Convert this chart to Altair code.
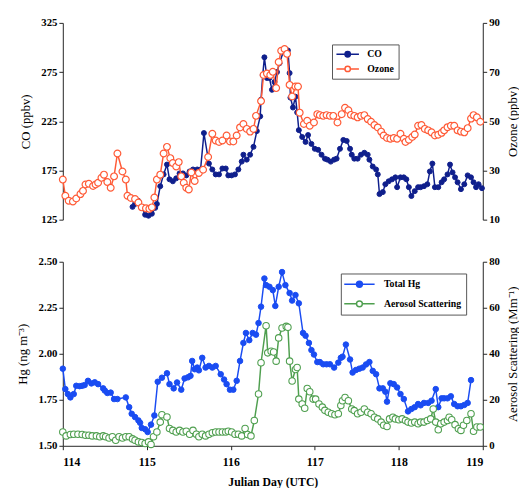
import altair as alt
import pandas as pd

# ---------------- data ----------------
co_day = [114.83, 114.86, 114.90, 114.94, 114.98, 115.02, 115.06, 115.10, 115.12, 115.16,
          115.20, 115.24, 115.27, 115.31, 115.35, 115.39, 115.43, 115.47, 115.51, 115.55,
          115.60, 115.64, 115.68, 115.74, 115.78, 115.82, 115.86, 115.90, 115.94, 115.97,
          116.01, 116.05, 116.09, 116.13, 116.15, 116.19, 116.23, 116.27, 116.31, 116.35,
          116.36, 116.38, 116.40, 116.43, 116.46, 116.49, 116.52, 116.55, 116.58, 116.63,
          116.68, 116.70, 116.71, 116.74, 116.77, 116.79, 116.81, 116.85, 116.89, 116.92,
          116.96, 117.00, 117.04, 117.08, 117.12, 117.15, 117.19, 117.23, 117.26, 117.30,
          117.34, 117.38, 117.42, 117.44, 117.47, 117.51, 117.55, 117.59, 117.63, 117.65,
          117.69, 117.73, 117.75, 117.77, 117.81, 117.84, 117.88, 117.92, 117.96, 117.98,
          118.02, 118.06, 118.09, 118.12, 118.15, 118.19, 118.23, 118.26, 118.30, 118.34,
          118.37, 118.40, 118.43, 118.47, 118.51, 118.54, 118.58, 118.61, 118.64, 118.67,
          118.70, 118.74, 118.78, 118.82, 118.86, 118.89, 118.92, 118.95, 118.99]
co_val = [138, 141, 144, 138, 130, 129, 131, 137, 141, 159,
          171, 181, 166, 164, 167, 172, 172, 170, 174, 176,
          176, 176, 213, 182, 176, 171, 171, 177, 177, 170,
          170, 171, 176, 184, 191, 186, 191, 199, 215, 230,
          247, 272, 290, 269, 269, 257, 265, 275, 284, 297,
          297, 274, 249, 239, 250, 234, 216, 209, 204, 211,
          202, 197, 196, 191, 187, 186, 184, 186, 187, 197,
          206, 205, 197, 191, 187, 187, 191, 193, 191, 186,
          179, 176, 171, 151, 153, 161, 164, 166, 168, 158,
          168, 168, 166, 158, 149, 154, 158, 158, 159, 161,
          174, 182, 158, 158, 163, 166, 171, 181, 173, 168,
          163, 156, 161, 170, 168, 163, 158, 161, 157]

oz_day = [114.00, 114.03, 114.07, 114.12, 114.16, 114.21, 114.24, 114.27, 114.31, 114.36,
          114.39, 114.42, 114.46, 114.49, 114.53, 114.57, 114.61, 114.65, 114.71, 114.75,
          114.77, 114.81, 114.86, 114.90, 114.94, 114.99, 115.03, 115.06, 115.09, 115.12,
          115.16, 115.20, 115.24, 115.28, 115.31, 115.35, 115.38, 115.41, 115.44, 115.47,
          115.50, 115.53, 115.57, 115.62, 115.67, 115.73, 115.78, 115.82, 115.86, 115.90,
          115.95, 115.99, 116.03, 116.07, 116.11, 116.15, 116.19, 116.23, 116.27, 116.30,
          116.36, 116.39, 116.43, 116.47, 116.50, 116.54, 116.57, 116.60, 116.64, 116.67,
          116.70, 116.73, 116.77, 116.80, 116.82, 116.87, 116.91, 116.94, 116.99, 117.03,
          117.06, 117.10, 117.14, 117.18, 117.22, 117.27, 117.32, 117.36, 117.40, 117.43,
          117.47, 117.51, 117.55, 117.59, 117.63, 117.67, 117.71, 117.75, 117.79, 117.82,
          117.86, 117.90, 117.94, 117.98, 118.02, 118.06, 118.08, 118.12, 118.16, 118.19,
          118.23, 118.27, 118.31, 118.35, 118.39, 118.43, 118.47, 118.51, 118.54, 118.58,
          118.62, 118.66, 118.70, 118.74, 118.78, 118.82, 118.86, 118.89, 118.93, 118.97]
oz_val = [26.3, 19.7, 17.7, 17.4, 18.6, 20.4, 21.7, 24.3, 24.6, 23.7,
          24.3, 25.0, 27.0, 28.3, 25.3, 23.0, 27.6, 36.9, 29.6, 26.3,
          19.7, 18.8, 18.4, 17.0, 15.0, 14.6, 14.4, 15.0, 19.0, 26.3,
          28.3, 36.9, 39.6, 35.0, 33.0, 31.6, 33.4, 27.6, 25.0, 23.0,
          22.3, 29.2, 25.7, 29.0, 30.3, 35.5, 44.9, 42.2, 41.6, 42.2,
          44.2, 41.8, 41.8, 44.2, 47.5, 48.9, 46.9, 45.8, 46.9, 52.2,
          58.2, 68.8, 69.4, 68.8, 70.1, 63.5, 74.1, 78.7, 79.4, 77.4,
          64.8, 60.1, 64.1, 64.1, 53.5, 48.9, 50.2, 48.2, 49.5, 52.9,
          52.5, 52.2, 52.5, 52.2, 52.2, 49.5, 52.9, 55.5, 54.5, 52.6,
          52.2, 51.6, 52.2, 52.5, 50.9, 49.8, 48.5, 47.5, 45.8, 44.2,
          43.2, 42.9, 43.2, 42.9, 44.9, 42.9, 41.6, 42.5, 43.6, 44.6,
          48.2, 48.5, 46.9, 46.3, 45.5, 44.2, 44.5, 45.3, 46.3, 47.6,
          48.2, 48.2, 46.3, 45.8, 45.5, 47.2, 51.1, 52.5, 51.6, 49.8]

hg_day = [114.00, 114.03, 114.06, 114.09, 114.13, 114.16, 114.20, 114.23, 114.26, 114.30,
          114.34, 114.38, 114.42, 114.48, 114.50, 114.53, 114.57, 114.61, 114.65, 114.75,
          114.79, 114.82, 114.86, 114.90, 114.92, 114.94, 114.98, 115.01, 115.05, 115.09,
          115.13, 115.18, 115.24, 115.27, 115.32, 115.36, 115.41, 115.45, 115.49, 115.52,
          115.54, 115.57, 115.60, 115.62, 115.66, 115.70, 115.74, 115.78, 115.82, 115.88,
          115.92, 115.95, 115.99, 116.03, 116.07, 116.11, 116.15, 116.18, 116.22, 116.26,
          116.30, 116.33, 116.36, 116.40, 116.42, 116.46, 116.50, 116.53, 116.57, 116.61,
          116.65, 116.70, 116.73, 116.77, 116.81, 116.86, 116.89, 116.93, 116.96, 116.99,
          117.03, 117.06, 117.10, 117.14, 117.18, 117.23, 117.28, 117.31, 117.33, 117.37,
          117.42, 117.45, 117.49, 117.53, 117.57, 117.61, 117.65, 117.69, 117.73, 117.77,
          117.81, 117.84, 117.86, 117.90, 117.94, 117.98, 118.02, 118.06, 118.11, 118.15,
          118.19, 118.23, 118.26, 118.30, 118.35, 118.39, 118.44, 118.47, 118.51, 118.54,
          118.58, 118.62, 118.66, 118.70, 118.74, 118.78, 118.82, 118.86]
hg_val = [1.919, 1.808, 1.781, 1.763, 1.781, 1.826, 1.824, 1.826, 1.830, 1.853,
          1.839, 1.845, 1.835, 1.812, 1.800, 1.787, 1.789, 1.754, 1.754, 1.763,
          1.710, 1.674, 1.656, 1.638, 1.625, 1.597, 1.590, 1.575, 1.615, 1.665,
          1.848, 1.870, 1.894, 1.835, 1.812, 1.844, 1.805, 1.866, 1.872, 1.880,
          1.961, 1.916, 1.925, 1.910, 1.978, 1.925, 1.934, 1.925, 1.934, 1.889,
          1.860, 1.835, 1.805, 1.805, 1.853, 1.961, 2.059, 2.113, 2.074, 2.113,
          2.104, 2.167, 2.256, 2.409, 2.373, 2.364, 2.346, 2.260, 2.364, 2.444,
          2.373, 2.330, 2.289, 2.319, 2.274, 2.113, 2.098, 2.059, 2.020, 1.996,
          1.955, 1.955, 1.943, 1.943, 1.943, 1.925, 1.952, 1.978, 1.984, 2.050,
          1.969, 1.898, 1.912, 1.919, 1.925, 1.942, 1.955, 1.907, 1.889, 1.812,
          1.812, 1.794, 1.740, 1.840, 1.835, 1.817, 1.781, 1.754, 1.687, 1.700,
          1.710, 1.727, 1.720, 1.733, 1.733, 1.745, 1.808, 1.710, 1.758, 1.758,
          1.758, 1.769, 1.727, 1.715, 1.715, 1.722, 1.733, 1.857]

aer_day = [114.00, 114.04, 114.09, 114.13, 114.18, 114.23, 114.27, 114.31, 114.35, 114.40,
           114.44, 114.48, 114.51, 114.55, 114.59, 114.63, 114.67, 114.71, 114.75, 114.79,
           114.83, 114.86, 114.90, 114.94, 114.98, 115.02, 115.05, 115.08, 115.12, 115.16,
           115.18, 115.24, 115.27, 115.31, 115.35, 115.39, 115.43, 115.47, 115.51, 115.55,
           115.59, 115.62, 115.66, 115.70, 115.74, 115.78, 115.82, 115.86, 115.90, 115.94,
           115.97, 116.01, 116.05, 116.09, 116.13, 116.17, 116.20, 116.24, 116.28, 116.33,
           116.36, 116.42, 116.44, 116.48, 116.51, 116.54, 116.57, 116.61, 116.66, 116.68,
           116.70, 116.73, 116.77, 116.79, 116.81, 116.85, 116.88, 116.91, 116.94, 116.98,
           117.01, 117.05, 117.09, 117.12, 117.16, 117.20, 117.24, 117.28, 117.31, 117.33,
           117.36, 117.40, 117.44, 117.47, 117.51, 117.55, 117.59, 117.63, 117.67, 117.71,
           117.75, 117.79, 117.82, 117.86, 117.89, 117.93, 117.96, 118.00, 118.04, 118.08,
           118.11, 118.15, 118.19, 118.23, 118.26, 118.30, 118.34, 118.38, 118.41, 118.44,
           118.47, 118.50, 118.54, 118.58, 118.60, 118.63, 118.67, 118.71, 118.74, 118.77,
           118.81, 118.86, 118.89, 118.93, 118.97]
aer_val = [6.0, 4.3, 4.9, 5.0, 5.0, 4.9, 4.6, 4.6, 4.3, 4.3,
           3.9, 4.3, 3.9, 3.4, 3.9, 2.4, 3.9, 3.4, 3.9, 3.9,
           3.0, 2.4, 1.7, 1.4, 1.0, 1.7, 0.6, 3.9, 6.0, 10.3,
           13.5, 12.5, 7.5, 6.7, 6.0, 6.7, 6.0, 6.3, 5.0, 6.7,
           5.0, 3.9, 5.0, 4.3, 5.0, 5.7, 6.0, 6.0, 6.0, 6.0,
           6.3, 6.0, 5.0, 5.0, 4.3, 7.5, 4.9, 4.3, 11.0, 22.5,
           36.1, 52.2, 40.4, 41.1, 40.8, 36.8, 46.9, 51.2, 51.9, 51.5,
           36.8, 28.2, 33.2, 34.0, 20.3, 18.2, 16.3, 24.9, 23.5, 20.3,
           20.3, 18.2, 16.8, 15.4, 14.6, 13.9, 13.5, 13.9, 17.5, 19.6,
           21.0, 19.6, 16.0, 15.3, 13.9, 14.6, 16.0, 14.6, 13.9, 12.4,
           11.7, 10.3, 8.9, 8.4, 11.7, 12.4, 11.7, 11.3, 11.7, 11.0,
           10.3, 9.9, 10.3, 9.6, 10.3, 10.3, 11.0, 11.7, 16.0, 10.3,
           7.0, 9.6, 10.3, 11.0, 12.4, 11.3, 9.2, 7.4, 6.7, 8.9,
           11.0, 13.9, 6.3, 8.2, 8.2]

top_series = ["CO", "Ozone"]
bot_series = ["Total Hg", "Aerosol Scattering"]
day_ticks = [114, 115, 116, 117, 118, 119]
co_ticks = [125, 175, 225, 275, 325]
oz_ticks = [10, 30, 50, 70, 90]
hg_ticks = [1.50, 1.75, 2.00, 2.25, 2.50]
aer_ticks = [0, 20, 40, 60, 80]

# ---------------- style ----------------
NAVY = "#0f1f8c"
ORANGE = "#ff5a36"
BLUE = "#1a4cf2"
GREEN = "#4f9f4f"
SERIF = "Liberation Serif"
W = 429


def frame(days, vals, name):
    return pd.DataFrame({"day": days, "value": vals, "series": name})


co_df = frame(co_day, co_val, "CO")
oz_df = frame(oz_day, oz_val, "Ozone")
hg_df = frame(hg_day, hg_val, "Total Hg")
aer_df = frame(aer_day, aer_val, "Aerosol Scattering")

xscale = alt.Scale(domain=[114, 119], nice=False, zero=False)


def legend(path, x, y, soff, loff, rowpad, pad):
    return alt.Legend(title=None, orient="none", legendX=x, legendY=y,
                      symbolType=path, symbolSize=100, symbolStrokeWidth=1.5,
                      symbolOffset=soff, labelOffset=loff, rowPadding=rowpad,
                      padding=pad, strokeColor="#555555", fillColor="white",
                      labelFont=SERIF, labelFontWeight="bold", labelFontSize=10,
                      labelColor="black")


top_path = "M-2.3,0H-0.55M0.55,0H2.3M0.55,0A0.55,0.55 0 1 1 -0.55,0A0.55,0.55 0 1 1 0.55,0"
bot_path = "M-3.1,0H-0.6M0.6,0H3.1M0.6,0A0.6,0.6 0 1 1 -0.6,0A0.6,0.6 0 1 1 0.6,0"

top_leg = legend(top_path, 275, 22, 6, 14, 3, 4)
bot_leg = legend(bot_path, 284, 12, 8, 19, 8, 5)

top_stroke = alt.Stroke("series:N", scale=alt.Scale(domain=top_series, range=[NAVY, ORANGE]), legend=top_leg)
top_fill = alt.Fill("series:N", scale=alt.Scale(domain=top_series, range=[NAVY, "white"]), legend=top_leg)
bot_stroke = alt.Stroke("series:N", scale=alt.Scale(domain=bot_series, range=[BLUE, GREEN]), legend=bot_leg)
bot_fill = alt.Fill("series:N", scale=alt.Scale(domain=bot_series, range=[BLUE, "white"]), legend=bot_leg)


def left_axis(values, title, fmt):
    return alt.Axis(values=values, title=title, orient="left", format=fmt, titlePadding=9)


def right_axis(values, title):
    return alt.Axis(values=values, title=title, orient="right", format="d",
                    titleAngle=270, titleBaseline="top", titlePadding=7)


def series_layer(df, x, yenc, stroke, fill, size, sw):
    base = alt.Chart(df).encode(x=x, y=yenc, stroke=stroke)
    line = base.mark_line(strokeWidth=1.5)
    pts = base.mark_point(shape="circle", size=size, strokeWidth=sw, opacity=1).encode(fill=fill)
    return alt.layer(line, pts)


x_top = alt.X("day:Q", scale=xscale, axis=None)
x_bot = alt.X("day:Q", scale=xscale,
              axis=alt.Axis(values=day_ticks, format="d", title="Julian Day (UTC)",
                            titleFontWeight="bold", titleFontSize=12, labelFontSize=12,
                            labelPadding=7, titlePadding=10))

co_layer = series_layer(co_df, x_top,
                        alt.Y("value:Q", scale=alt.Scale(domain=[125, 325], nice=False, zero=False),
                              axis=left_axis(co_ticks, "CO (ppbv)", "d")),
                        top_stroke, top_fill, 26, 1)
oz_layer = series_layer(oz_df, x_top,
                        alt.Y("value:Q", scale=alt.Scale(domain=[10, 90], nice=False, zero=False),
                              axis=right_axis(oz_ticks, "Ozone (ppbv)")),
                        top_stroke, top_fill, 48, 1.2)
top = alt.layer(co_layer, oz_layer).resolve_scale(y="independent").properties(width=W, height=201)

hg_layer = series_layer(hg_df, x_bot,
                        alt.Y("value:Q", scale=alt.Scale(domain=[1.5, 2.5], nice=False, zero=False),
                              axis=left_axis(hg_ticks, "Hg (ng m\u207b\u00b3)", ".2f")),
                        bot_stroke, bot_fill, 32, 1)
aer_layer = series_layer(aer_df, x_bot,
                         alt.Y("value:Q", scale=alt.Scale(domain=[0, 80], nice=False, zero=False),
                               axis=right_axis(aer_ticks, "Aerosol Scattering (Mm\u207b\u00b9)")),
                         bot_stroke, bot_fill, 44, 1.1)
bottom = alt.layer(hg_layer, aer_layer).resolve_scale(y="independent").properties(width=W, height=188)

chart = (
    alt.vconcat(top, bottom, spacing=43, bounds="flush")
    .resolve_scale(stroke="independent", fill="independent")
    .resolve_legend(stroke="independent", fill="independent")
    .properties(padding={"left": 8, "top": 4, "right": 0, "bottom": 0}, background="white")
    .configure_view(stroke=None)
    .configure_axis(grid=False, labelFont=SERIF, labelFontWeight="bold", labelFontSize=11,
                    labelColor="black", titleFont=SERIF, titleFontSize=13,
                    titleFontWeight="normal", titleColor="black", domainColor="#222222",
                    tickColor="#222222", tickSize=4, labelPadding=2)
)

chart.save("out.html", embed_options={"renderer": "svg", "actions": False})
